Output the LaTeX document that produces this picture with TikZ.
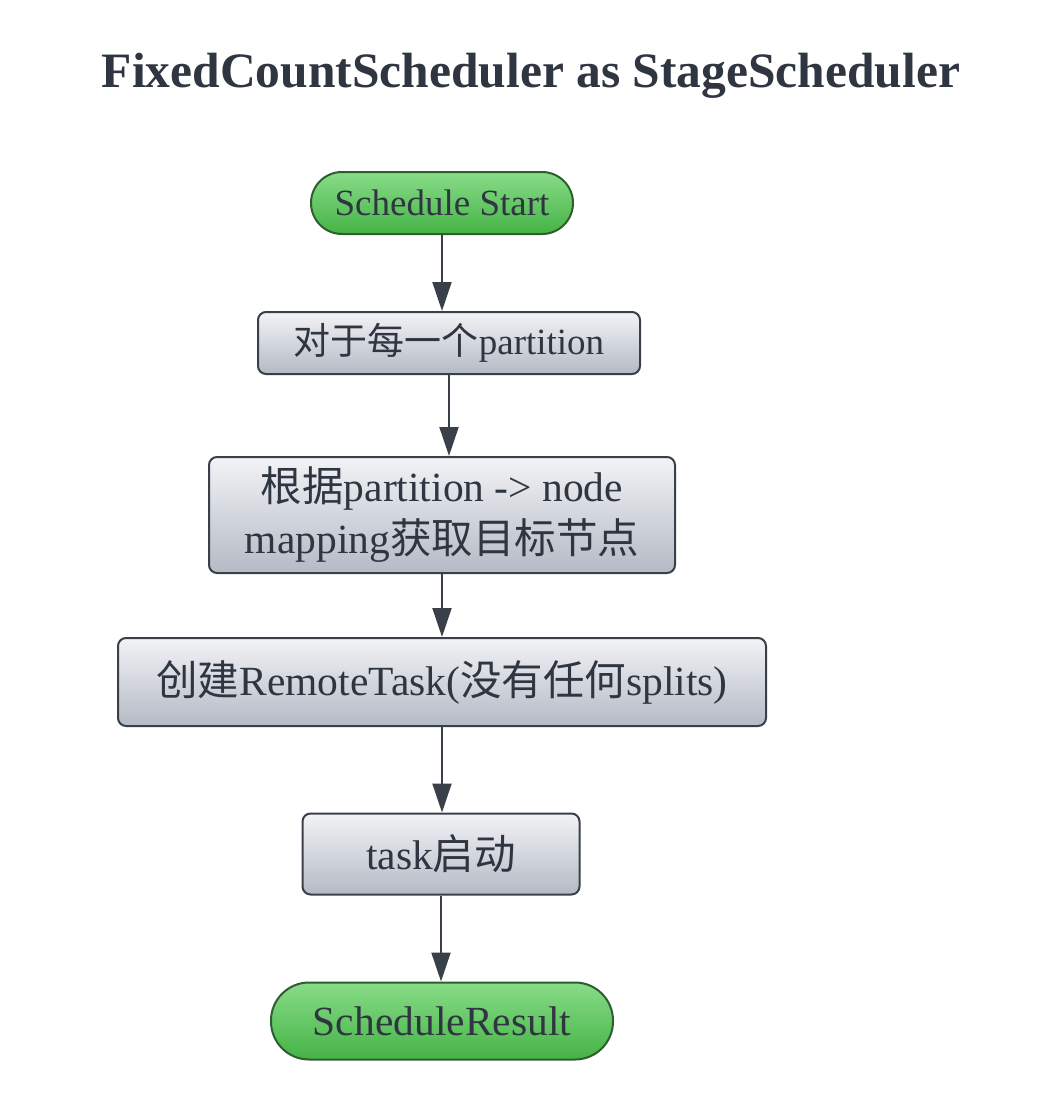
\documentclass[tikz,border=0pt]{standalone}
\usepackage{fontspec}
\setmainfont{Liberation Serif}
\newfontfamily\cjk{Noto Sans CJK SC}
\usetikzlibrary{arrows.meta}
\usetikzlibrary{positioning}
\definecolor{ink}{HTML}{2F3641}
\definecolor{edge}{HTML}{3A404A}
\definecolor{grntop}{HTML}{88DC88}
\definecolor{grnbot}{HTML}{45B345}
\definecolor{grnedge}{HTML}{2E5E2E}
\definecolor{boxtop}{HTML}{F2F3F6}
\definecolor{boxbot}{HTML}{B4BAC4}

\begin{document}
\begin{tikzpicture}[x=1pt,y=1pt,
    proc/.style={draw=edge, line width=2pt, rounded corners=8pt, top color=boxtop, bottom color=boxbot,
      text=ink, font=\fontsize{41.5}{52}\selectfont, align=center, inner sep=0pt},
    term/.style={draw=grnedge, line width=2pt, top color=grntop, bottom color=grnbot,
      text=ink, font=\fontsize{41.5}{48}\selectfont, inner sep=0pt},
    small/.style={font=\fontsize{37}{44}\selectfont},
    flow/.style={draw=edge, line width=2pt, -{Triangle[width=19pt,length=29pt]}, fill=edge}
    ]
\useasboundingbox (0,0) rectangle (1041,-1103);

\node (title) [text=ink, anchor=base, font=\bfseries\fontsize{49.5}{60}\selectfont] at (531,-87) {FixedCountScheduler as StageScheduler};

\node (start) [term, small, minimum width=262pt, minimum height=62pt, rounded corners=31pt] at (442,-203) {Schedule Start};
\node (each) [proc, small, minimum width=382pt, minimum height=62pt] at (449,-343) {{\cjk 对于每一个}partition};
\node (lookup) [proc, minimum width=466pt, minimum height=116pt] at (442,-515) {{\cjk 根据}partition -> node\\mapping{\cjk 获取目标节点}};
\node (create) [proc, minimum width=648pt, minimum height=88pt] at (442,-682) {{\cjk 创建}RemoteTask({\cjk 没有任何}splits)};
\node (launch) [proc, minimum width=277pt, minimum height=81pt] at (441,-854) {task{\cjk 启动}};
\node (result) [term, minimum width=342pt, minimum height=77pt, rounded corners=38pt] at (442,-1021) {ScheduleResult};

\draw [flow] (start.south) -- (start.south |- each.north);
\draw [flow] (each.south) -- (each.south |- lookup.north);
\draw [flow] (lookup.south) -- (lookup.south |- create.north);
\draw [flow] (create.south) -- (create.south |- launch.north);
\draw [flow] (launch.south) -- (launch.south |- result.north);
\end{tikzpicture}
\end{document}
